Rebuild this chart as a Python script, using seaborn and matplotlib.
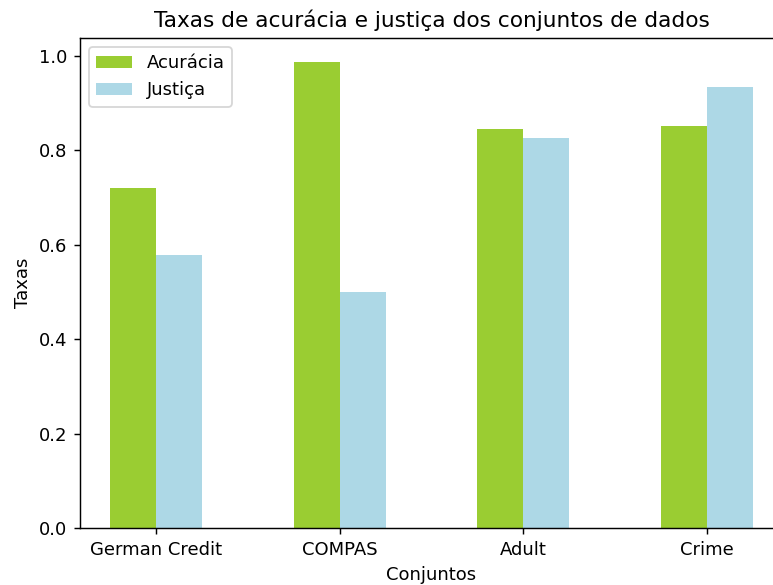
import matplotlib
matplotlib.use("Agg")
import matplotlib.pyplot as plt
import seaborn as sns
import pandas as pd

# Data
conjuntos = ["German Credit", "COMPAS", "Adult", "Crime"]
acuracia = [0.720, 0.987, 0.845, 0.852]
justica = [0.579, 0.499, 0.826, 0.934]
series_names = ["Acurácia", "Justiça"]
cores = ["yellowgreen", "lightblue"]

df = pd.DataFrame({
    "Conjuntos": conjuntos * 2,
    "Taxas": acuracia + justica,
    "Metrica": [series_names[0]] * len(conjuntos) + [series_names[1]] * len(conjuntos),
})

DPI = 130
fig = plt.figure(figsize=(773 / DPI, 585 / DPI), dpi=DPI)
# axes extend a bit past the right edge, like the original cropped image
ax = fig.add_axes([80 / 773, 57 / 585, 703 / 773, 490 / 585])

sns.barplot(data=df, x="Conjuntos", y="Taxas", hue="Metrica", palette=cores,
            width=0.5, saturation=1, ax=ax)

ax.set_xlim(-0.414, 3.414)
ax.set_ylim(0, 1.038)
ax.set_title("Taxas de acurácia e justiça dos conjuntos de dados")
ax.set_xlabel("Conjuntos")
ax.set_ylabel("Taxas")
ax.legend(loc="upper left", title=None)

fig.savefig("out.png", dpi=DPI)
